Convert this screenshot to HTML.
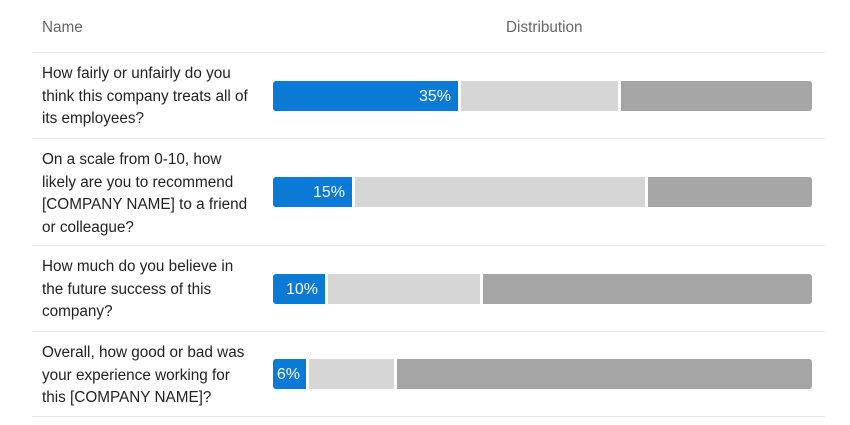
<!DOCTYPE html>
<html><head><style>
body{margin:0;width:850px;height:425px;background:#fff;font-family:"Liberation Sans",sans-serif;position:relative;overflow:hidden}
.t{position:absolute;left:42px;font-size:15.3px;line-height:22.5px;color:#222}
.h{position:absolute;top:19px;font-size:15.3px;color:#666}
.l{position:absolute;left:32px;width:793px;height:1px;background:#e8e8e8}
.b{position:absolute;height:30px}
.bl{background:#0a7ad6;border-radius:3px 0 0 3px;color:#fff;font-size:16px;line-height:31px;text-align:right;box-sizing:border-box;padding-right:7px}
.lg{background:#d6d6d6}
.dk{background:#a5a5a5;border-radius:0 3px 3px 0}
</style></head><body>
<div class="h" style="left:42px">Name</div>
<div class="h" style="left:506px">Distribution</div>
<div class="l" style="top:52px"></div>
<div class="l" style="top:138px"></div>
<div class="l" style="top:245px"></div>
<div class="l" style="top:331px"></div>
<div class="l" style="top:416px"></div>

<div class="t" style="top:63px">How fairly or unfairly do you<br>think this company treats all of<br>its employees?</div>
<div class="t" style="top:149px">On a scale from 0-10, how<br>likely are you to recommend<br>[COMPANY NAME] to a friend<br>or colleague?</div>
<div class="t" style="top:256px">How much do you believe in<br>the future success of this<br>company?</div>
<div class="t" style="top:342px">Overall, how good or bad was<br>your experience working for<br>this [COMPANY NAME]?</div>

<div class="b bl" style="top:81px;left:273px;width:185px">35%</div>
<div class="b lg" style="top:81px;left:461px;width:157px"></div>
<div class="b dk" style="top:81px;left:621px;width:191px"></div>

<div class="b bl" style="top:177px;left:273px;width:79px">15%</div>
<div class="b lg" style="top:177px;left:355px;width:290px"></div>
<div class="b dk" style="top:177px;left:648px;width:164px"></div>

<div class="b bl" style="top:274px;left:273px;width:52px">10%</div>
<div class="b lg" style="top:274px;left:328px;width:152px"></div>
<div class="b dk" style="top:274px;left:483px;width:329px"></div>

<div class="b bl" style="top:359px;left:273px;width:33px;padding-right:6px">6%</div>
<div class="b lg" style="top:359px;left:309px;width:85px"></div>
<div class="b dk" style="top:359px;left:397px;width:415px"></div>
</body></html>
